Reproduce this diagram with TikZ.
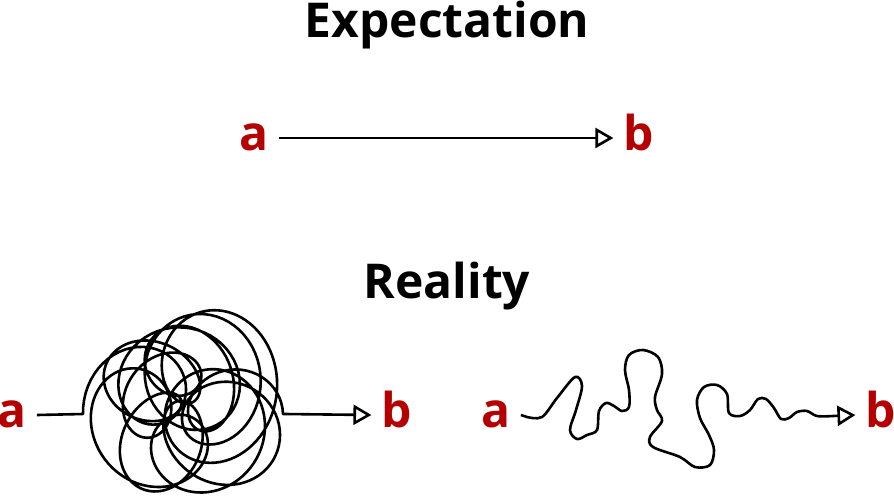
\documentclass[tikz,border=0pt]{standalone}
\usepackage{fontspec}
\setmainfont{Open Sans}
\usetikzlibrary{arrows.meta}
\definecolor{ptred}{RGB}{180,0,0}

\begin{document}
\begin{tikzpicture}
  [x=0.5pt,y=-0.5pt,
   ttl/.style={anchor=base,inner sep=0pt,font=\fontsize{24}{24}\selectfont\bfseries},
   pt/.style={anchor=base,inner ysep=0pt,inner xsep=5pt,text height=12pt,text depth=0pt,
     text=ptred,font=\fontsize{24}{24}\selectfont\bfseries},
   wire/.style={line width=1.3pt,line join=round,-{Triangle[open,length=9pt,width=10pt]}}]
  \useasboundingbox (0,0) rectangle (894,500);

  \node[ttl] (expect) at (447,37) {Expectation};
  \node[ttl] (real) at (447,298) {Reality};

  % expectation
  \node[pt] (ta) at (254,150) {a};
  \node[pt] (tb) at (639,150) {b};
  \draw[wire] (ta) -- (tb);

  % reality: the tangle
  \node[pt] (la) at (12,427) {a};
  \node[pt] (lb) at (397,427) {b};
  \draw[wire,domain=0:900,samples=800,variable=\t] (la.east) -- (83,414)
    -- plot ({183-46*cos(\t)-(42+10*sin(0.8*\t))*cos(5.4*(\t+25*sin(0.4*\t)))-12*cos(2.6*\t)},
             {404+10*(cos(\t/5))^2-45*sin(\t)-(44+10*sin(0.8*\t))*sin(5.4*(\t+25*sin(0.4*\t)))-12*sin(3.2*\t)})
    -- (lb.west);

  % reality: the detour
  \node[pt] (ra) at (496,427) {a};
  \node[pt] (rb) at (881,427) {b};
  \draw[wire] (ra.east) -- plot[smooth,tension=0.55] coordinates {
      (527,417) (542,417) (557,398) (575,377) (582,386) (576,410) (570,430)
      (577,439) (587,435) (597,430) (599,411) (606,403) (614,406) (622,411)
      (629,407) (629,390) (625,370) (629,355) (643,350) (658,357) (662,374)
      (655,397) (657,410) (662,421) (650,437) (653,447) (680,457) (695,467)
      (710,465) (714,450) (709,435) (700,418) (697,400) (704,387) (717,385)
      (727,394) (729,413) (740,416) (750,410) (758,399) (766,399) (774,408)
      (781,419) (789,418) (797,412) (807,411) (817,416) (833,416)}
    -- (rb.west);
\end{tikzpicture}
\end{document}
